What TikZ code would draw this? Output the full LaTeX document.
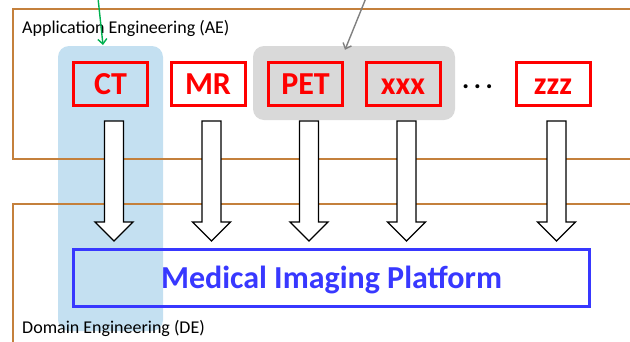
\documentclass[tikz,border=0pt]{standalone}
\usepackage{fontspec}
\setmainfont{Carlito}
\usetikzlibrary{arrows.meta,calc}
\definecolor{brownline}{RGB}{196,128,60}
\definecolor{selblue}{RGB}{196,224,241}
\definecolor{selgray}{RGB}{217,217,217}
\definecolor{platblue}{RGB}{56,56,255}
\definecolor{arrgreen}{RGB}{0,176,80}
\definecolor{redbox}{RGB}{255,0,0}
\definecolor{pointgray}{RGB}{128,128,128}
\tikzset{
  modbox/.style={draw=redbox, line width=3pt, minimum width=74pt, minimum height=43pt,
    inner sep=0pt, text=redbox, font=\fontsize{32}{32}\selectfont\bfseries,
    text height=20pt, text depth=0pt},
  areabox/.style={draw=brownline, line width=1.5pt},
  arealabel/.style={anchor=base west, inner sep=0pt, font=\fontsize{18}{18}\selectfont},
  blockarr/.style={draw=black, fill=white, line width=1.3pt, line join=miter},
  pointer/.style={line width=1.4pt, -{Straight Barb[length=5pt,width=9pt]}},
  platform/.style={draw=platblue, line width=3pt, minimum width=516pt, minimum height=57pt,
    inner sep=0pt, text=platblue, font=\fontsize{32}{32}\selectfont\bfseries,
    text height=20pt, text depth=0pt},
}
\newcommand\blockarrow[1]{%
  \draw[blockarr] ([xshift=3.5pt,yshift=-14pt]#1.south) ++(-9.5,0) -- ++(0,101) -- ++(-9.5,0)
    -- ++(19,19) -- ++(19,-19) -- ++(-9.5,0) -- ++(0,-101) -- cycle;}
\begin{document}
\begin{tikzpicture}[x=1pt,y=-1pt]
\clip (0,0) rectangle (630,341);
% highlight backgrounds
\node[fill=selblue, rounded corners=11pt, minimum width=105pt, minimum height=285pt, inner sep=0pt] (selct) at (110.5,188.5) {};
\node[fill=selgray, rounded corners=11pt, minimum width=202pt, minimum height=74pt, inner sep=0pt] (grp) at (354,83) {};
% areas
\draw[areabox] (13,9) rectangle (650,159);
\draw[areabox] (13,204) rectangle (650,360);
\node[arealabel] (ae) at (22,33) {Application Engineering (AE)};
\node[arealabel] (de) at (22,333.5) {Domain Engineering (DE)};
% modality boxes
\node[modbox] (ct) at (110.5,84) {CT};
\node[modbox] (mr) at (208,84) {MR};
\node[modbox] (pet) at (305.5,84) {PET};
\node[modbox] (xxx) at (403,84) {xxx};
\node[modbox] (zzz) at (553,84) {zzz};
\node[anchor=base, inner sep=0pt, font=\fontsize{27}{27}\selectfont\bfseries] (dots) at (477.5,88) {.\,.\,.};
% block arrows
\blockarrow{ct}
\blockarrow{mr}
\blockarrow{pet}
\blockarrow{xxx}
\blockarrow{zzz}
% platform
\node[platform] (plat) at (331.5,278) {Medical Imaging Platform};
% pointers from above
\coordinate (gtop) at (98,-2);
\coordinate (ptop) at (366,-2);
\draw[pointer, arrgreen] (gtop) -- ([shift={(-7.5pt,16pt)}]ct.north);
\draw[pointer, pointgray] (ptop) -- ([shift={(-9pt,-4pt)}]grp.north);
\end{tikzpicture}
\end{document}
